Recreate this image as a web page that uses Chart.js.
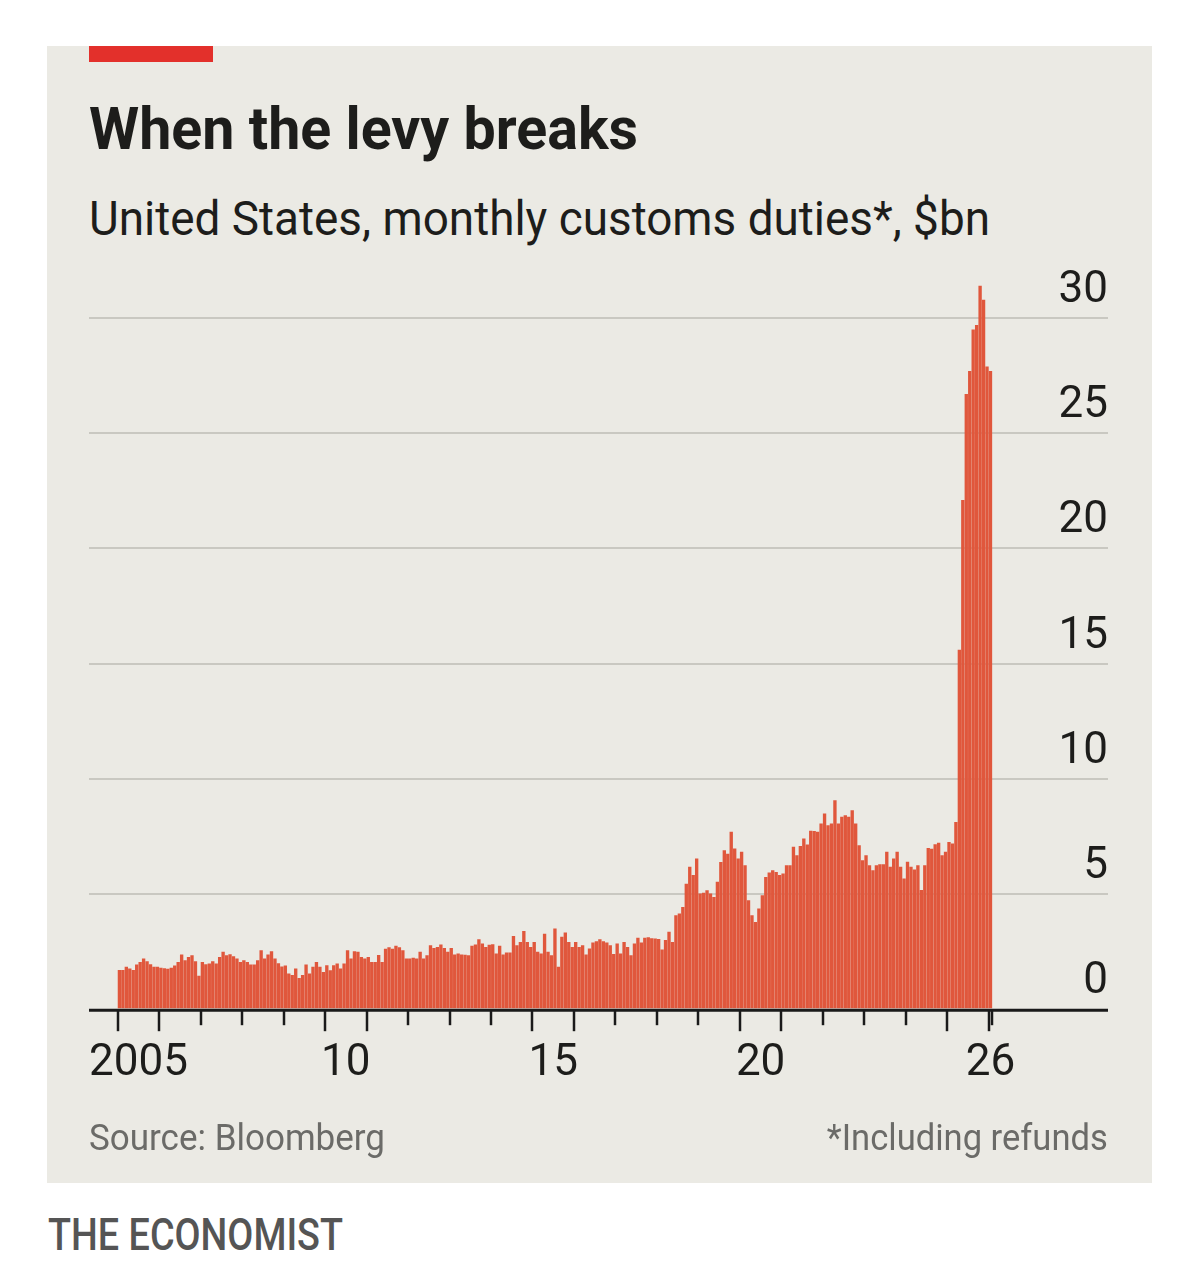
<!DOCTYPE html>
<html>
<head>
<meta charset="utf-8">
<script src="https://cdn.jsdelivr.net/npm/chart.js@4.4.1/dist/chart.umd.min.js"></script>
<style>
html, body { margin: 0; padding: 0; background: #fff; }
body { width: 1200px; height: 1282px; position: relative; overflow: hidden; font-family: Roboto, "Noto Sans", sans-serif; }
#panel { position: absolute; left: 47px; top: 46px; width: 1105px; height: 1137px; background: #ebeae4; }
#redbar { position: absolute; left: 89px; top: 46px; width: 124px; height: 16px; background: #e3302b; }
.txt { position: absolute; white-space: nowrap; line-height: 1; transform-origin: 0 0; }
#title { left: 89px; top: 99px; font-size: 60px; font-weight: 700; color: #1d1d1b; }
#subtitle { left: 89px; top: 194px; font-size: 49px; color: #1d1d1b; }
#source { left: 89px; top: 1120px; font-size: 36px; color: #6b6b68; }
#note { right: 92px; top: 1120px; font-size: 36px; color: #6b6b68; transform-origin: 100% 0; }
#brand { left: 48px; top: 1213px; font-size: 44px; font-weight: 500; color: #555; }
#chartBox { position: absolute; left: 0; top: 250px; width: 1200px; height: 868px; }
</style>
</head>
<body>
<div id="panel"></div>
<div id="redbar"></div>
<div class="txt" id="title" data-w="549">When the levy breaks</div>
<div class="txt" id="subtitle" data-w="901">United States, monthly customs duties*, $bn</div>
<div id="chartBox"><canvas id="chart"></canvas></div>
<div class="txt" id="source" data-w="296">Source: Bloomberg</div>
<div class="txt" id="note" data-w="281">*Including refunds</div>
<div class="txt" id="brand" data-w="295">THE ECONOMIST</div>

<script>
// monthly customs duties, $bn, Jan 2005 - Jan 2026
const startYear = 2005;
const customsDuties = [
  1.70, 1.70, 1.84, 1.77, 1.70, 1.94, 2.05, 2.20, 2.08, 1.95, 1.84, 1.84, // 2005
  1.80, 1.78, 1.76, 1.80, 1.90, 2.05, 2.37, 2.13, 2.27, 2.34, 2.08, 1.45, // 2006
  2.05, 1.95, 1.98, 2.08, 1.98, 2.27, 2.49, 2.34, 2.38, 2.30, 2.20, 2.05, // 2007
  2.13, 2.05, 1.94, 1.94, 2.13, 2.56, 2.20, 2.37, 2.52, 2.20, 2.00, 1.85, // 2008
  1.90, 1.55, 1.48, 1.77, 1.35, 1.48, 1.94, 1.55, 1.84, 2.05, 1.84, 1.62, // 2009
  1.91, 1.69, 1.91, 1.98, 1.77, 1.98, 2.56, 2.20, 2.52, 2.49, 2.27, 2.20, // 2010
  2.27, 2.05, 2.05, 2.35, 2.05, 2.62, 2.69, 2.62, 2.75, 2.69, 2.56, 2.20, // 2011
  2.20, 2.23, 2.20, 2.49, 2.20, 2.34, 2.78, 2.66, 2.70, 2.81, 2.66, 2.49, // 2012
  2.66, 2.37, 2.42, 2.37, 2.36, 2.34, 2.75, 2.81, 3.04, 2.85, 2.70, 2.80, // 2013
  2.82, 2.42, 2.75, 2.37, 2.46, 2.46, 3.18, 2.78, 2.92, 3.39, 2.92, 2.70, // 2014
  2.92, 2.49, 2.42, 3.28, 2.49, 2.34, 3.50, 1.84, 3.14, 3.33, 2.92, 2.70, // 2015
  2.92, 2.70, 2.78, 2.37, 2.63, 2.89, 2.95, 3.04, 2.95, 2.89, 2.78, 2.40, // 2016
  2.85, 2.42, 2.92, 2.70, 2.34, 2.85, 3.10, 2.90, 3.10, 3.12, 3.08, 3.07, // 2017
  3.05, 2.59, 3.00, 3.36, 2.92, 4.08, 4.15, 4.44, 5.45, 6.18, 5.82, 6.54, // 2018
  5.02, 5.06, 5.16, 5.02, 4.87, 5.53, 6.39, 6.90, 6.75, 7.70, 6.98, 6.54, // 2019
  6.83, 6.25, 4.73, 4.08, 3.79, 4.37, 4.95, 5.74, 5.93, 6.03, 5.96, 5.82, // 2020
  5.89, 6.25, 6.25, 7.05, 6.68, 7.08, 7.41, 7.15, 7.75, 7.74, 7.70, 8.06, // 2021
  8.49, 7.99, 8.06, 9.07, 8.06, 8.35, 8.42, 8.35, 8.64, 8.06, 7.12, 6.47, // 2022
  6.68, 6.25, 6.03, 6.25, 6.29, 6.29, 6.83, 6.18, 6.54, 6.83, 6.18, 5.67, // 2023
  6.40, 6.18, 6.06, 6.25, 5.17, 6.25, 7.00, 6.97, 7.16, 7.22, 6.68, 6.83, // 2024
  7.26, 7.19, 8.13, 15.6, 22.1, 26.7, 27.7, 29.5, 29.7, 31.4, 30.8, 27.9, // 2025
  27.7                                                                    // Jan 2026
];
const months = customsDuties.map((v, i) =>
  (startYear + Math.floor(i / 12)) + '-' + String(i % 12 + 1).padStart(2, '0'));

// x axis: labels centred on the labelled year, "26" on its single month
const xTickLabels = ['2005', '10', '15', '20', '26'];
const xTickYears = [2005, 2010, 2015, 2020, 2026];
const longTickYears = [2005, 2006, 2010, 2011, 2015, 2016, 2020, 2021, 2025, 2026];
const lastYear = 2026;

const monthIndex = (year, m) => (year - startYear) * 12 + m;
const xTickPositions = xTickYears.map(y => y === lastYear ? monthIndex(y, 0) : monthIndex(y, 0) + 5.5);

document.querySelectorAll('[data-w]').forEach(el => {
  const w = el.getBoundingClientRect().width;
  el.style.transform = 'scaleX(' + (el.dataset.w / w) + ')';
});

const yearTicks = {
  id: 'yearTicks',
  afterDatasetsDraw(chart) {
    const {ctx, chartArea, scales: {x, y}} = chart;
    const base = y.getPixelForValue(0) + 1;
    ctx.save();
    ctx.strokeStyle = '#1a1a1a';
    ctx.lineWidth = 3;
    ctx.beginPath();
    ctx.moveTo(chartArea.left, base);
    ctx.lineTo(chartArea.right, base);
    ctx.stroke();
    ctx.lineWidth = 2.5;
    const edges = [];
    for (let yr = startYear; yr <= lastYear; yr++) edges.push([monthIndex(yr, 0) - 0.5, longTickYears.includes(yr)]);
    edges.push([customsDuties.length - 0.5, false]);
    edges.forEach(([v, long]) => {
      const px = Math.round(x.getPixelForValue(v));
      ctx.beginPath();
      ctx.moveTo(px, base);
      ctx.lineTo(px, base + (long ? 21 : 15));
      ctx.stroke();
    });
    ctx.restore();
  }
};

Chart.defaults.font.family = 'Roboto';

const ctx = document.getElementById('chart').getContext('2d');
const chart = new Chart(ctx, {
  type: 'bar',
  data: {
    labels: months,
    datasets: [{
      label: 'Customs duties',
      backgroundColor: '#e0573c',
      borderWidth: 0,
      barPercentage: 0.97,
      categoryPercentage: 1,
      data: customsDuties.map((v, i) => ({x: i, y: v})),
    }]
  },
  options: {
    responsive: true,
    maintainAspectRatio: false,
    animation: false,
    layout: { padding: { left: 89, right: 92, top: 0, bottom: 0 } },
    plugins: { legend: { display: false }, tooltip: { enabled: false } },
    scales: {
      x: {
        type: 'linear',
        min: -8.8,
        max: 286,
        offset: false,
        grid: { display: false, drawTicks: false },
        border: { display: false },
        afterBuildTicks: axis => { axis.ticks = xTickPositions.map(v => ({value: v})); },
        ticks: {
          autoSkip: false,
          maxRotation: 0,
          padding: 28,
          color: '#1d1d1b',
          font: { size: 44, lineHeight: 1.2 },
          callback: (v, i) => xTickLabels[i],
        }
      },
      y: {
        position: 'right',
        min: 0,
        max: 32,
        border: { display: false },
        grid: {
          drawTicks: false,
          lineWidth: 2,
          color: c => c.tick && c.tick.value === 0 ? 'rgba(0,0,0,0)' : '#c9c8c1',
        },
        ticks: {
          stepSize: 5,
          includeBounds: false,
          mirror: true,
          padding: 0,
          labelOffset: -27,
          color: '#1d1d1b',
          font: { size: 44, lineHeight: 1 },
        }
      }
    }
  },
  plugins: [yearTicks]
});
</script>
</body>
</html>
